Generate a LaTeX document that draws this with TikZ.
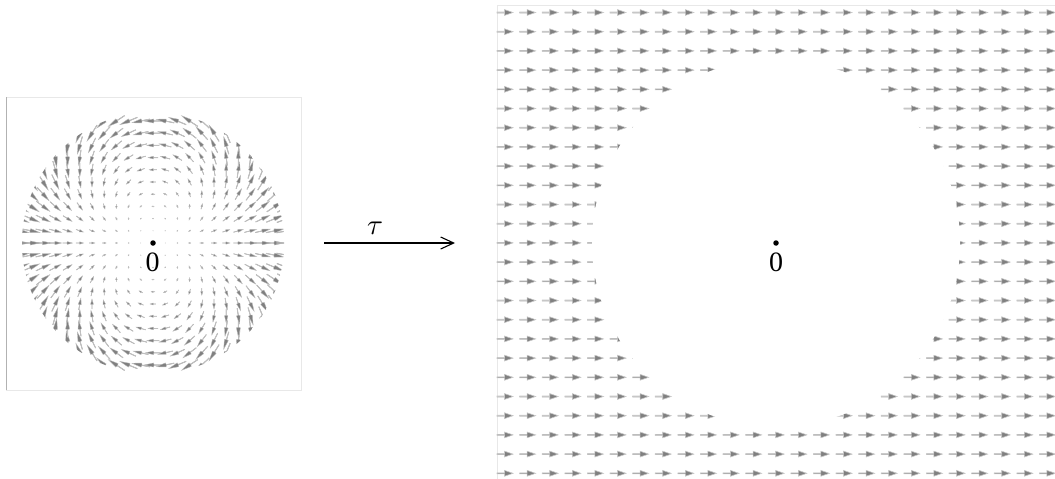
\documentclass[tikz,border=0pt]{standalone}
\usepackage{fontspec}
\setmainfont{Liberation Serif}
\usetikzlibrary{arrows.meta}
\begin{document}
\begin{tikzpicture}[
  x=1pt, y=-1pt,
  fieldarrow/.pic={\fill[draw=black!22, line width=0.6pt, fill=black!50]
    (0,-0.5) -- (7.5,-0.5) -- (7.5,-2.9) -- (16,0) -- (7.5,2.9) -- (7.5,0.5) -- (0,0.5) -- cycle;},
  diskarrow/.pic={\fill[draw=black!25, line width=0.35pt, fill=black!50]
    (0,-0.3) -- (7,-0.3) -- (7.5,-1.9) -- (16,0) -- (7.5,1.9) -- (7,0.3) -- (0,0.3) -- cycle;},
  panel/.style={draw=black!9, line width=0.7pt},
  origin/.style={circle, fill=black, inner sep=0pt, minimum size=5.5pt},
  zero/.style={font=\fontsize{28}{30}\selectfont, inner sep=0pt},
  map/.style={->, >={Straight Barb[length=13pt,width=12pt]}, line width=1.1pt}
]
\useasboundingbox (0,0) rectangle (1055,479);

% Disk panel
\draw[panel] (6,390) -- (301,390) -- (301,97) -- (6,97);
\draw[draw=black!30, line width=0.8pt] (6,97) -- (6,390);
\begin{scope}
  \clip (153,243) circle (131);
  \foreach \i in {-11,...,11}
    \foreach \j in {-11,...,11} {
      \pgfmathsetmacro{\rad}{12.2*sqrt(\i*\i+\j*\j)}
      \ifdim \rad pt>0.5pt
        \pgfmathsetmacro{\ang}{2*atan2(\j,\i)}
        \pgfmathsetmacro{\len}{18*(\rad/122)^1.7/16}
        \pgfmathsetmacro{\wid}{\len^0.6}
        \pic[rotate=\ang, xscale=\len, yscale=\wid, xshift=-8pt] at ({153+12.2*\i},{243-12.2*\j}) {diskarrow};
      \fi
    }
\end{scope}
\node[origin] (leftdot) at (153,243) {};
\node[zero] (leftzero) at (152.5,262.5) {0};

% Map
\coordinate (mapstart) at (324,243);
\coordinate (mapend) at (455,243);
\draw[map] (mapstart) -- (mapend);
\node[scale=2.9, inner sep=0pt] (taulabel) at (375,228) {$\tau$};

% Constant field panel
\draw[panel] (497,479) -- (497,5) -- (1055,5);
\foreach \i in {0,...,24}
  \foreach \j in {0,...,24}
    \pic at ({497+22.6*\i},{12.5+19.2*\j}) {fieldarrow};
\fill[white] (776,243) circle (184);
\node[origin] (rightdot) at (776,243) {};
\node[zero] (rightzero) at (776,262.5) {0};
\end{tikzpicture}
\end{document}
